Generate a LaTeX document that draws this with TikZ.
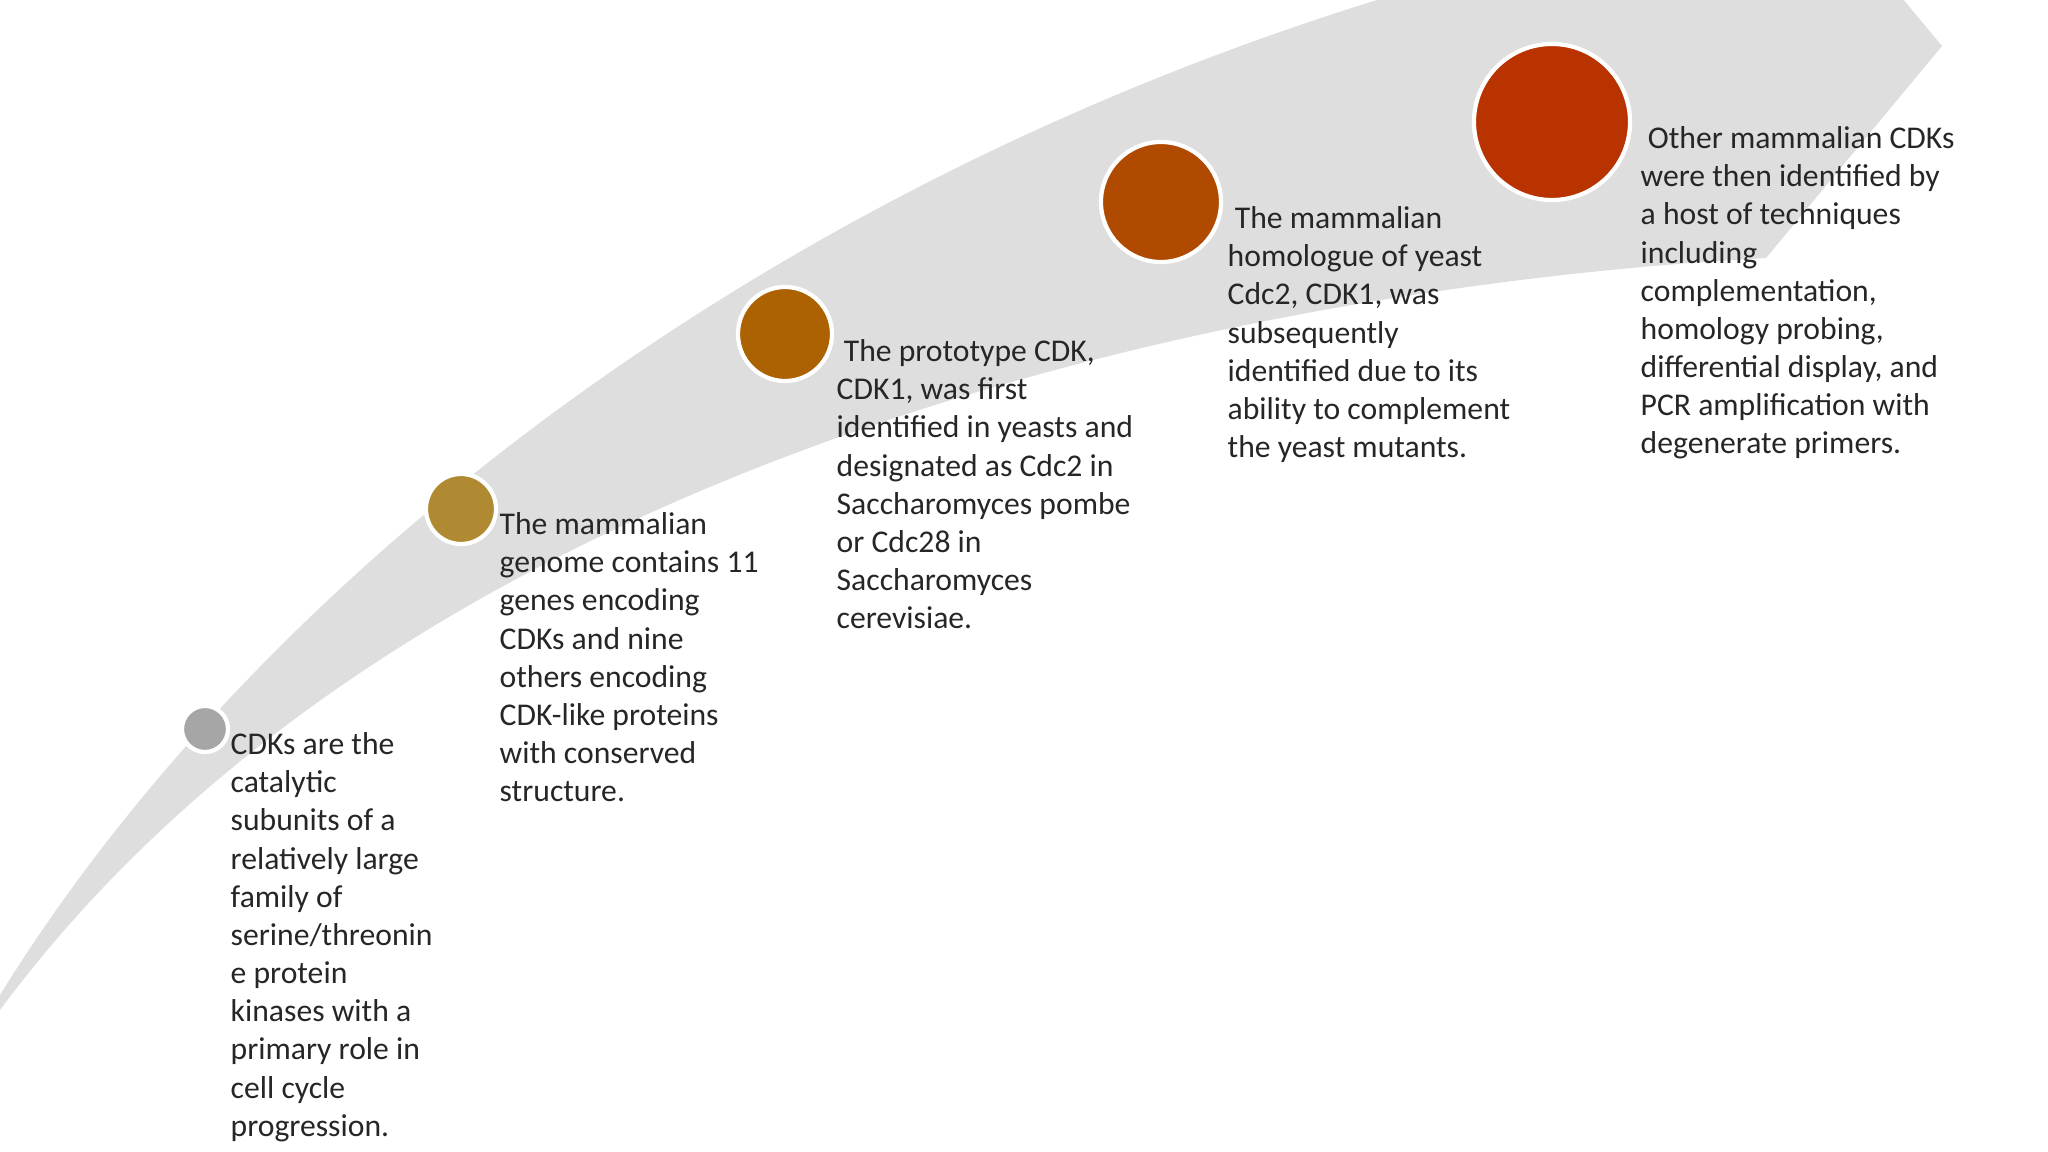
\documentclass[tikz,border=0pt]{standalone}
\usepackage{fontspec}
\setmainfont{Carlito}
\begin{document}
\begin{tikzpicture}[x=0.01cm,y=-0.01cm,
  dot/.style={circle,draw=white,line width=1.2pt,inner sep=0pt},
  txt/.style={anchor=north west,align=left,inner sep=0pt,font=\fontsize{9}{10.85}\selectfont,text=black!85}]
\useasboundingbox (0,0) rectangle (2048,1152);
\begin{scope}
\clip (0,0) rectangle (2048,1152);
\fill[black!13] (0,995) .. controls (264,568) and (793,159) .. (1466,-26) -- (1882,-26) -- (1942,46) -- (1766,258)
  .. controls (1189,290) and (396,476) .. (0,1010) -- cycle;
\end{scope}
\node[dot,fill={rgb,255:red,166;green,166;blue,166},minimum size=0.46cm] (c1) at (205,729) {};
\node[dot,fill={rgb,255:red,176;green,138;blue,51},minimum size=0.70cm] (c2) at (461,509) {};
\node[dot,fill={rgb,255:red,172;green,98;blue,0},minimum size=0.94cm] (c3) at (785,334) {};
\node[dot,fill={rgb,255:red,176;green,74;blue,0},minimum size=1.20cm] (c4) at (1161,202) {};
\node[dot,fill={rgb,255:red,184;green,51;blue,0},minimum size=1.56cm] (c5) at (1552,122) {};
\node[txt] (t1) at (230,732) {CDKs are the\\catalytic\\subunits of a\\relatively large\\family of\\serine/threonin\\e protein\\kinases with a\\primary role in\\cell cycle\\progression.};
\node[txt] (t2) at (499,512) {The mammalian\\genome contains 11\\genes encoding\\CDKs and nine\\others encoding\\CDK-like proteins\\with conserved\\structure.};
\node[txt] (t3) at (836,339) {\ The prototype CDK,\\CDK1, was first\\identified in yeasts and\\designated as Cdc2 in\\Saccharomyces pombe\\or Cdc28 in\\Saccharomyces\\cerevisiae.};
\node[txt] (t4) at (1227,206) {\ The mammalian\\homologue of yeast\\Cdc2, CDK1, was\\subsequently\\identified due to its\\ability to complement\\the yeast mutants.};
\node[txt] (t5) at (1640,126) {\ Other mammalian CDKs\\were then identified by\\a host of techniques\\including\\complementation,\\homology probing,\\differential display, and\\PCR amplification with\\degenerate primers.};
\end{tikzpicture}
\end{document}
